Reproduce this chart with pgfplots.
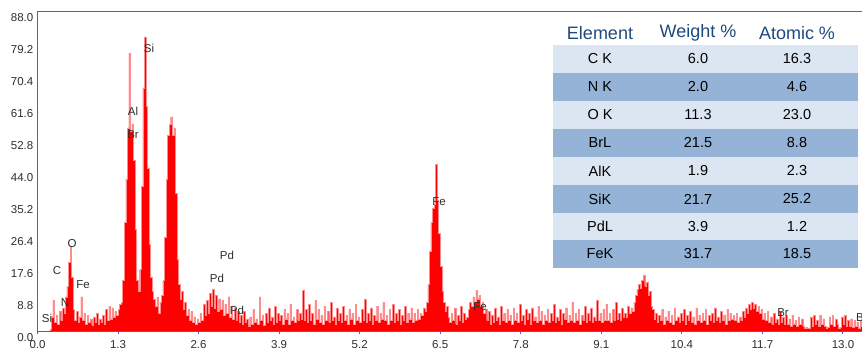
\documentclass[border=0pt]{standalone}
\usepackage{fontspec}
\setmainfont{Liberation Sans}
\usepackage{pgfplots}
\pgfplotsset{compat=1.18}
\definecolor{framecol}{RGB}{85,85,225}
\definecolor{rowlight}{RGB}{220,230,242}
\definecolor{rowdark}{RGB}{149,179,215}
\definecolor{headblue}{RGB}{31,73,125}
\definecolor{specred}{RGB}{255,0,0}
\definecolor{lbl}{RGB}{45,45,45}
\begin{document}
\begin{tikzpicture}
\path[use as bounding box] (-37.5pt,-20.5pt) rectangle (824.5pt,331.5pt);
\begin{axis}[
  name=ax,
  at={(0pt,0pt)}, anchor=south west,
  scale only axis, width=831pt, height=320pt,
  xmin=0, xmax=13.412, ymin=0, ymax=88,
  clip=false,
  xtick={0,1.3,2.6,3.9,5.2,6.5,7.8,9.1,10.4,11.7,13},
  ytick={0,8.8,17.6,26.4,35.2,44,52.8,61.6,70.4,79.2,88},
  xtick pos=bottom, ytick pos=left,
  tick align=outside, major tick length=3pt,
  xtick style={draw=framecol, line width=1pt},
  ytick style={draw=none},
  axis line style={draw=none},
  tick label style={font=\fontsize{11.5}{13}\selectfont, text=lbl},
  yticklabel style={inner sep=1pt, yshift=-6pt},
  xticklabel style={inner sep=1pt, yshift=-5pt},
  /pgf/number format/fixed,
  /pgf/number format/fixed zerofill,
  /pgf/number format/precision=1,
  /pgf/number format/assume math mode=true,
]
\addplot[const plot, fill=specred, draw=specred!45, line width=0.4pt] coordinates {
(0.200,0.5) (0.225,4.0) (0.250,8.6) (0.275,2.5) (0.300,4.5) (0.325,2.0) (0.350,5.5) (0.375,3.0)
(0.400,6.5) (0.425,5.0) (0.450,9.5) (0.475,12.5) (0.500,19.0) (0.525,23.5) (0.550,15.0) (0.575,6.0)
(0.600,3.0) (0.625,5.5) (0.650,2.5) (0.675,4.0) (0.700,9.5) (0.725,3.0) (0.750,5.0) (0.775,2.0)
(0.800,4.5) (0.825,2.5) (0.850,3.5) (0.875,1.8) (0.900,4.0) (0.925,2.5) (0.950,5.0) (0.975,2.0)
(1.000,3.5) (1.025,2.5) (1.050,4.5) (1.075,2.0) (1.100,6.0) (1.125,3.0) (1.150,7.0) (1.175,3.5)
(1.200,6.5) (1.225,4.0) (1.250,5.5) (1.275,4.5) (1.300,6.0) (1.325,7.5)
(1.350,8) (1.375,14) (1.400,30) (1.425,42) (1.450,56) (1.475,76.5) (1.500,55) (1.525,57)
(1.550,47) (1.575,28) (1.600,14) (1.625,11) (1.650,17)
(1.675,40) (1.700,67) (1.725,81) (1.750,62) (1.775,45) (1.800,24) (1.825,15) (1.850,11) (1.875,9)
(1.900,7) (1.925,9.5) (1.950,5) (1.975,8) (2.000,10)
(2.025,14) (2.050,26) (2.075,42) (2.100,54) (2.125,57) (2.150,59) (2.175,54) (2.200,56)
(2.225,38) (2.250,20) (2.275,13) (2.300,9) (2.325,11) (2.350,6) (2.375,8) (2.400,4.5)
(2.425,6) (2.450,3) (2.475,5.5) (2.500,2.5) (2.525,4) (2.550,2) (2.575,3.5) (2.600,2.5) (2.625,5)
(2.650,3) (2.675,7.5) (2.700,4.5) (2.725,8.5) (2.750,5) (2.775,10.5) (2.800,7) (2.825,11.5)
(2.850,6.5) (2.875,10) (2.900,5.5) (2.925,9) (2.950,6) (2.975,8.5) (3.000,4.5) (3.025,7.5)
(3.050,5) (3.075,9.5) (3.100,4) (3.125,7) (3.150,3.5) (3.175,6.5) (3.200,3) (3.225,5.5) (3.250,2.5)
(3.275,4.5) (3.300,2) (3.325,5.5) (3.350,2.5) (3.375,3.5) (3.400,1.5) (3.425,4) (3.450,2)
(3.475,6) (3.500,2.5) (3.525,3.5) (3.550,2) (3.575,9.5) (3.600,3) (3.625,4.5) (3.650,1.8)
(3.675,5) (3.700,2.5) (3.725,6.5) (3.750,3) (3.775,4) (3.800,2) (3.825,7) (3.850,2.5)
(3.875,5) (3.900,3) (3.925,4.5) (3.950,2) (3.975,6) (4.000,3.5) (4.025,5) (4.050,2)
(4.075,7.5) (4.100,3) (4.125,4) (4.150,2.5) (4.175,6) (4.200,3) (4.225,5) (4.250,3.5)
(4.275,11.3) (4.300,3) (4.325,6) (4.350,2.5) (4.375,7.5) (4.400,3) (4.425,5) (4.450,2)
(4.475,8.5) (4.500,3.5) (4.525,6) (4.550,2.5) (4.575,4.5) (4.600,2) (4.625,7) (4.650,3)
(4.675,5.5) (4.700,2.5) (4.725,8) (4.750,3) (4.775,4) (4.800,2) (4.825,6.5) (4.850,3)
(4.875,5) (4.900,2.5) (4.925,7) (4.950,3) (4.975,4.5) (5.000,2) (5.025,6) (5.050,3.5)
(5.075,5) (5.100,2) (5.125,7.5) (5.150,3) (5.175,4) (5.200,2.5) (5.225,6) (5.250,3)
(5.275,9) (5.300,2.5) (5.325,5) (5.350,3) (5.375,6.5) (5.400,2) (5.425,4.5) (5.450,3)
(5.475,7) (5.500,2.5) (5.525,5) (5.550,3.5) (5.575,8) (5.600,3) (5.625,4.5) (5.650,2)
(5.675,6) (5.700,3) (5.725,7.5) (5.750,2.5) (5.775,5) (5.800,3) (5.825,6) (5.850,2)
(5.875,4.5) (5.900,3) (5.925,7) (5.950,2.5) (5.975,5) (6.000,3.5) (6.025,6.5) (6.050,2.5)
(6.075,5) (6.100,3) (6.125,6) (6.150,3.5) (6.175,5) (6.200,4.5) (6.225,6.5) (6.250,5.5)
(6.275,8) (6.300,13) (6.325,22) (6.350,30) (6.375,34) (6.400,35) (6.425,46) (6.450,36)
(6.475,27) (6.500,18) (6.525,11) (6.550,8) (6.575,5.5) (6.600,7) (6.625,4)
(6.650,2.5) (6.675,5) (6.700,3) (6.725,6.5) (6.750,2) (6.775,4.5) (6.800,3) (6.825,7)
(6.850,2.5) (6.875,5) (6.900,3.5) (6.925,4)
(6.950,6) (6.975,8) (7.000,7) (7.025,9.5) (7.050,8) (7.075,11.3) (7.100,9) (7.125,10)
(7.150,7) (7.175,8) (7.200,5) (7.225,6)
(7.250,3) (7.275,5.5) (7.300,2) (7.325,4.5) (7.350,2.5) (7.375,6.5) (7.400,3) (7.425,4)
(7.450,2) (7.475,7) (7.500,3) (7.525,5) (7.550,2.5) (7.575,6) (7.600,3) (7.625,4.5)
(7.650,2) (7.675,6.5) (7.700,3) (7.725,5) (7.750,2.5) (7.775,7.5) (7.800,3) (7.825,4.5)
(7.850,2) (7.875,6) (7.900,3.5) (7.925,5) (7.950,2) (7.975,6.5) (8.000,3) (8.025,4)
(8.050,2.5) (8.075,7) (8.100,3) (8.125,5.5) (8.150,2) (8.175,4.5) (8.200,3) (8.225,6)
(8.250,2.5) (8.275,5) (8.300,3) (8.325,7.5) (8.350,2.5) (8.375,4) (8.400,3) (8.425,6)
(8.450,2) (8.475,5) (8.500,3.5) (8.525,6.5) (8.550,2.5) (8.575,4.5) (8.600,3) (8.625,8)
(8.650,2.5) (8.675,5) (8.700,3) (8.725,6) (8.750,2) (8.775,4.5) (8.800,3) (8.825,7)
(8.850,2.5) (8.875,5) (8.900,3) (8.925,6.5) (8.950,2.5) (8.975,4) (9.000,3) (9.025,8.5)
(9.050,3) (9.075,5) (9.100,2.5) (9.125,6) (9.150,3) (9.175,7.5) (9.200,3) (9.225,5)
(9.250,2.5) (9.275,6) (9.300,3) (9.325,8) (9.350,3.5) (9.375,5) (9.400,3) (9.425,6.5)
(9.450,4) (9.475,5)
(9.500,4) (9.525,7) (9.550,5) (9.575,6.5) (9.600,5.5) (9.625,8) (9.650,10) (9.675,11.5)
(9.700,13) (9.725,12) (9.750,14) (9.775,15.5) (9.800,12.5) (9.825,13.5) (9.850,10) (9.875,11)
(9.900,7) (9.925,6) (9.950,3.5) (9.975,5)
(10.000,2.5) (10.025,4.5) (10.050,3) (10.075,6) (10.100,2) (10.125,4) (10.150,3) (10.175,5.5)
(10.200,2.5) (10.225,4.5) (10.250,2) (10.275,6.5) (10.300,3) (10.325,4) (10.350,2.5) (10.375,5)
(10.400,3) (10.425,6) (10.450,2) (10.475,4.5) (10.500,3) (10.525,5.5) (10.550,2.5) (10.575,4)
(10.600,2) (10.625,6.5) (10.650,3) (10.675,4.5) (10.700,2.5) (10.725,5) (10.750,3) (10.775,6)
(10.800,2) (10.825,4.5) (10.850,3) (10.875,5) (10.900,2.5) (10.925,6.5) (10.950,3) (10.975,4)
(11.000,2.5) (11.025,5.5) (11.050,3) (11.075,4.5) (11.100,2) (11.125,6) (11.150,3) (11.175,5)
(11.200,3.5) (11.225,4.5)
(11.250,3) (11.275,5) (11.300,2.5) (11.325,4) (11.350,3) (11.375,5.5) (11.400,4) (11.425,6.5)
(11.450,5) (11.475,7.5) (11.500,6) (11.525,8) (11.550,6.5) (11.575,7.5) (11.600,5.5) (11.625,7)
(11.650,5) (11.675,6) (11.700,3.5) (11.725,5) (11.750,3)
(11.775,5.5) (11.800,2.5) (11.825,4) (11.850,2) (11.875,5) (11.900,2.5) (11.925,3.5) (11.950,2)
(11.975,5.5) (12.000,2.5) (12.025,4) (12.050,2) (12.075,4.5) (12.100,2) (12.125,3.5) (12.150,1.5)
(12.175,4.5) (12.200,2) (12.225,3) (12.250,1.5) (12.275,4) (12.300,2) (12.325,3.5) (12.350,1.5)
(12.375,1) (12.400,1.2) (12.425,0.8) (12.450,1) (12.475,4) (12.500,1.5) (12.525,4.5) (12.550,2)
(12.575,3) (12.600,1.5) (12.625,4.5) (12.650,2) (12.675,3.5) (12.700,1.5) (12.725,1) (12.750,1.2)
(12.775,4) (12.800,2) (12.825,4.5) (12.850,1.5) (12.875,3.5) (12.900,2) (12.925,1) (12.950,1.2)
(12.975,4) (13.000,2) (13.025,4.5) (13.050,1.5) (13.075,3) (13.100,1.5) (13.125,3.5) (13.150,1.2)
(13.175,3) (13.200,1.5) (13.225,2.5) (13.250,1) (13.275,3) (13.300,1.5) (13.325,3) (13.350,1.5)
(13.375,2.5) (13.400,1)
} \closedcycle;
\end{axis}
\begin{scope}[shift={(-37.5pt,331.5pt)}, x=1pt, y=-1pt]
  % frame (left, top, bottom)
  \fill[framecol] (36.8,10.8) rectangle (866,12.4);
  \fill[framecol] (36.8,10.8) rectangle (38.4,332.3);
  \fill[framecol] (36.8,330.7) rectangle (866,332.3);
  % table
  \fill[rowlight] (553,45) rectangle (858,73);
  \fill[rowdark]  (553,73) rectangle (858,101);
  \fill[rowlight] (553,101) rectangle (858,129);
  \fill[rowdark]  (553,129) rectangle (858,157);
  \fill[rowlight] (553,157) rectangle (858,185);
  \fill[rowdark]  (553,185) rectangle (858,213);
  \fill[rowlight] (553,213) rectangle (858,240);
  \fill[rowdark]  (553,240) rectangle (858,268);
  \begin{scope}[every node/.style={inner sep=0pt, text=headblue, font=\fontsize{18}{20}\selectfont}]
    \node at (600,33) {Element};
    \node at (698,33) {Weight \%};
    \node at (797,33) {Atomic \%};
  \end{scope}
  \begin{scope}[every node/.style={inner sep=0pt, text=black, font=\fontsize{14.5}{16}\selectfont}]
    \node at (600,59) {C K};  \node at (698,59) {6.0};  \node at (797,59) {16.3};
    \node at (600,87) {N K};  \node at (698,87) {2.0};  \node at (797,87) {4.6};
    \node at (600,115) {O K}; \node at (698,115) {11.3}; \node at (797,115) {23.0};
    \node at (600,143) {BrL}; \node at (698,143) {21.5}; \node at (797,143) {8.8};
    \node at (600,171) {AlK}; \node at (698,171) {1.9};  \node at (797,171) {2.3};
    \node at (600,199) {SiK}; \node at (698,199) {21.7}; \node at (797,199) {25.2};
    \node at (600,226.5) {PdL}; \node at (698,226.5) {3.9}; \node at (797,226.5) {1.2};
    \node at (600,254) {FeK}; \node at (698,254) {31.7}; \node at (797,254) {18.5};
  \end{scope}
  % peak labels
  \begin{scope}[every node/.style={inner sep=0pt, text=lbl, font=\fontsize{11.5}{12}\selectfont}]
    \node at (47,318) {Si};
    \node at (57,271) {C};
    \node at (65,303) {N};
    \node at (72,244) {O};
    \node at (83,285) {Fe};
    \node at (133,111) {Al};
    \node at (133,135) {Br};
    \node at (149,48) {Si};
    \node at (227,255) {Pd};
    \node at (217,278) {Pd};
    \node at (237,310) {Pd};
    \node at (439,202) {Fe};
    \node at (480,307) {Fe};
    \node at (783,313) {Br};
    \node[anchor=west] at (856,318) {Br};
  \end{scope}
\end{scope}
\end{tikzpicture}
\end{document}
